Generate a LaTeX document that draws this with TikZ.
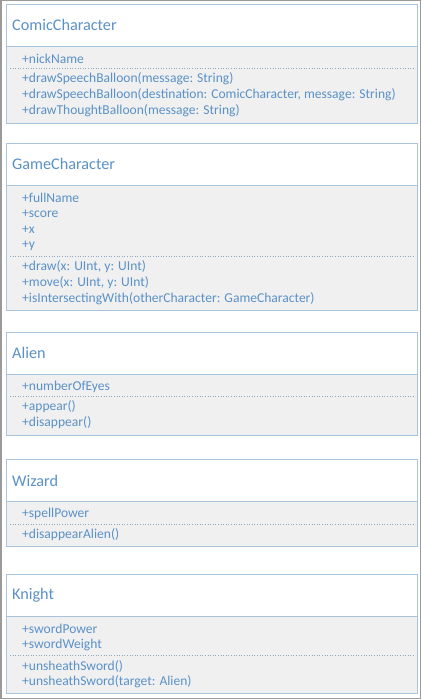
\documentclass[tikz,border=0pt]{standalone}
\usepackage{fontspec}
\setmainfont{Carlito}
\definecolor{txtblue}{HTML}{5A91C8}
\definecolor{edgeblue}{HTML}{A9C4DC}
\definecolor{bodygray}{HTML}{F0F0F0}
\definecolor{sepcol}{HTML}{8FA8C0}
\definecolor{framegray}{HTML}{9A9A9A}
\begin{document}
\begin{tikzpicture}[x=1pt,y=-1pt,
  headbox/.style={draw=edgeblue,fill=white,line width=0.9pt,anchor=north west,minimum width=411pt,inner sep=0pt,outer sep=0pt},
  bodybox/.style={draw=edgeblue,fill=bodygray,line width=0.9pt,anchor=north west,minimum width=411pt,inner sep=0pt,outer sep=0pt},
  titletxt/.style={anchor=west,inner sep=0pt,text=txtblue,font=\fontsize{16.2}{19}\selectfont},
  itemtxt/.style={anchor=west,inner sep=0pt,text=txtblue,font=\fontsize{13.55}{16}\selectfont},
  sepline/.style={draw=sepcol,line width=0.6pt,dotted}]
\useasboundingbox (0,0) rectangle (422,700);
\draw[framegray,line width=1.2pt] (1,0.5) rectangle (420.5,698.5);

% ComicCharacter
\node[headbox,minimum height=42pt] (cch) at (6,4) {};
\node[bodybox,minimum height=77pt] (ccb) at (6,46) {};
\node[titletxt] (cct) at (12,25) {ComicCharacter};
\node[itemtxt] (cca1) at (22,59) {+nickName};
\coordinate (ccs1) at (10,68.5); \coordinate (ccs2) at (414,68.5);
\draw[sepline] (ccs1) -- (ccs2);
\node[itemtxt] (ccm1) at (22,79) {+drawSpeechBalloon(message: String)};
\node[itemtxt] (ccm2) at (22,95) {+drawSpeechBalloon(destination: ComicCharacter, message: String)};
\node[itemtxt] (ccm3) at (22,111) {+drawThoughtBalloon(message: String)};

% GameCharacter
\node[headbox,minimum height=41.7pt] (gch) at (6,143.3) {};
\node[bodybox,minimum height=125.3pt] (gcb) at (6,185) {};
\node[titletxt] (gct) at (12,164) {GameCharacter};
\node[itemtxt] (gca1) at (22,198) {+fullName};
\node[itemtxt] (gca2) at (22,214) {+score};
\node[itemtxt] (gca3) at (22,230) {+x};
\node[itemtxt] (gca4) at (22,246) {+y};
\coordinate (gcs1) at (10,256.3); \coordinate (gcs2) at (414,256.3);
\draw[sepline] (gcs1) -- (gcs2);
\node[itemtxt] (gcm1) at (22,267) {+draw(x: UInt, y: UInt)};
\node[itemtxt] (gcm2) at (22,283) {+move(x: UInt, y: UInt)};
\node[itemtxt] (gcm3) at (22,299) {+isIntersectingWith(otherCharacter: GameCharacter)};

% Alien
\node[headbox,minimum height=41.7pt] (alh) at (6,332.3) {};
\node[bodybox,minimum height=61pt] (alb) at (6,374) {};
\node[titletxt] (alt) at (12,353.3) {Alien};
\node[itemtxt] (ala1) at (22,387) {+numberOfEyes};
\coordinate (als1) at (10,396.3); \coordinate (als2) at (414,396.3);
\draw[sepline] (als1) -- (als2);
\node[itemtxt] (alm1) at (22,407) {+appear()};
\node[itemtxt] (alm2) at (22,423) {+disappear()};

% Wizard
\node[headbox,minimum height=42.4pt] (wzh) at (6,459.3) {};
\node[bodybox,minimum height=44.6pt] (wzb) at (6,501.7) {};
\node[titletxt] (wzt) at (12,480.7) {Wizard};
\node[itemtxt] (wza1) at (22,514) {+spellPower};
\coordinate (wzs1) at (10,524) ; \coordinate (wzs2) at (414,524);
\draw[sepline] (wzs1) -- (wzs2);
\node[itemtxt] (wzm1) at (22,534.5) {+disappearAlien()};

% Knight
\node[headbox,minimum height=42.4pt] (knh) at (6,574.3) {};
\node[bodybox,minimum height=76.3pt] (knb) at (6,616.7) {};
\node[titletxt] (knt) at (12,595) {Knight};
\node[itemtxt] (kna1) at (22,629) {+swordPower};
\node[itemtxt] (kna2) at (22,645) {+swordWeight};
\coordinate (kns1) at (10,655.3); \coordinate (kns2) at (414,655.3);
\draw[sepline] (kns1) -- (kns2);
\node[itemtxt] (knm1) at (22,666) {+unsheathSword()};
\node[itemtxt] (knm2) at (22,682) {+unsheathSword(target: Alien)};
\end{tikzpicture}
\end{document}
